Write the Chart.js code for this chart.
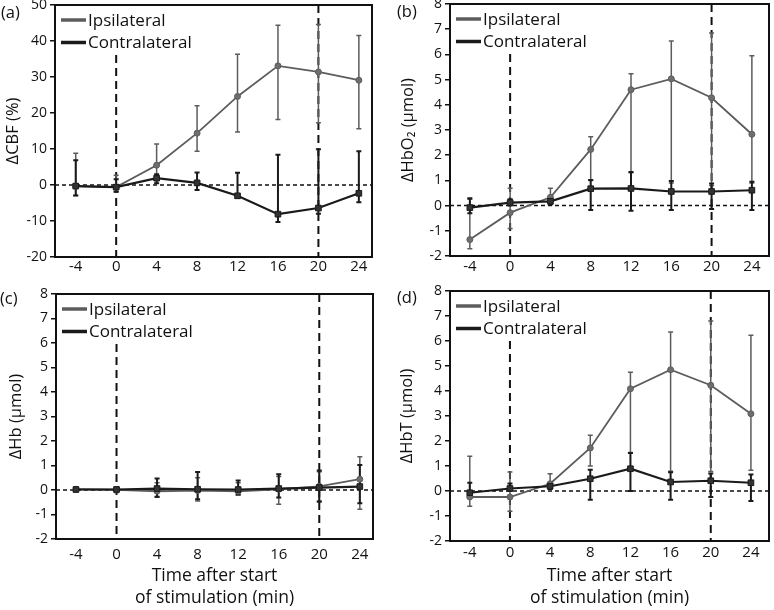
<!DOCTYPE html>
<html>
<head>
<meta charset="utf-8">
<script src="https://cdn.jsdelivr.net/npm/chart.js@4.4.1/dist/chart.umd.min.js"></script>
<style>
  body { margin: 0; background: #fff; }
  #wrap { position: relative; width: 774px; height: 610px; overflow: hidden; background: #fff; }
  #wrap canvas { position: absolute; }
  .tag { position: absolute; font: 500 16.5px "Open Sans", sans-serif; color: #111; line-height: 20px; }
</style>
</head>
<body>
<div id="wrap">
  <canvas id="panelA" width="387" height="302" style="left:0;top:-12px"></canvas>
  <canvas id="panelB" width="387" height="302" style="left:387px;top:-12px"></canvas>
  <canvas id="panelC" width="387" height="332" style="left:0;top:278px"></canvas>
  <canvas id="panelD" width="387" height="332" style="left:387px;top:278px"></canvas>
  <div class="tag" style="left:1px;top:2px">(a)</div>
  <div class="tag" style="left:397px;top:1px">(b)</div>
  <div class="tag" style="left:0;top:288px">(c)</div>
  <div class="tag" style="left:397px;top:287px">(d)</div>
</div>
<script>
// time points (min after start of stimulation)
const times = [-4, 0, 4, 8, 12, 16, 20, 24];
const xTicks = [-4, 0, 4, 8, 12, 16, 20, 24];
// stimulation start / end
const stimMarks = [0, 20];

// (a) CBF (%)
const cbfIpsi = [-0.3, -0.6, 5.5, 14.4, 24.6, 33.1, 31.4, 29.1];
const cbfIpsiHi = [8.8, 2.7, 11.4, 22.0, 36.3, 44.4, 44.6, 41.5];
const cbfIpsiLo = [-2.9, -1.9, 1.5, 9.4, 14.7, 18.2, 17.3, 15.6];
const cbfContra = [-0.3, -0.6, 1.9, 0.6, -3.0, -8.1, -6.4, -2.3];
const cbfContraHi = [6.9, 1.6, 3.0, 3.5, 3.4, 8.4, 9.9, 9.4];
const cbfContraLo = [-2.9, -1.9, 0.5, -1.4, -3.6, -10.3, -8.0, -4.8];

// (b) HbO2 (umol)
const hbo2Ipsi = [-1.35, -0.28, 0.33, 2.23, 4.6, 5.03, 4.28, 2.83];
const hbo2IpsiHi = [0.25, 0.69, 0.69, 2.73, 5.23, 6.53, 6.85, 5.95];
const hbo2IpsiLo = [-1.71, -0.91, 0.15, 1.0, 1.3, 0.9, 0.8, 0.9];
const hbo2Contra = [-0.08, 0.12, 0.17, 0.67, 0.68, 0.56, 0.56, 0.61];
const hbo2ContraHi = [0.29, 0.25, 0.3, 1.02, 1.33, 0.98, 0.88, 0.95];
const hbo2ContraLo = [-0.3, 0.0, 0.05, -0.17, -0.2, -0.17, -0.13, -0.17];

// (c) Hb (umol)
const hbIpsi = [0.03, 0.01, -0.05, -0.02, -0.05, 0.03, 0.15, 0.44];
const hbIpsiHi = [0.08, 0.12, 0.3, 0.5, 0.3, 0.55, 0.75, 1.36];
const hbIpsiLo = [-0.02, -0.1, -0.3, -0.45, -0.2, -0.58, -0.45, -0.79];
const hbContra = [0.02, 0.02, 0.06, 0.03, 0.02, 0.06, 0.1, 0.14];
const hbContraHi = [0.08, 0.1, 0.47, 0.73, 0.39, 0.64, 0.8, 1.02];
const hbContraLo = [-0.04, -0.05, -0.28, -0.38, -0.18, -0.31, -0.48, -0.54];

// (d) HbT (umol)
const hbtIpsi = [-0.24, -0.24, 0.29, 1.72, 4.09, 4.85, 4.23, 3.09];
const hbtIpsiHi = [1.39, 0.76, 0.69, 2.23, 4.75, 6.36, 6.8, 6.23];
const hbtIpsiLo = [-0.61, -0.81, 0.15, 1.0, 1.54, 0.79, 0.78, 0.83];
const hbtContra = [-0.07, 0.1, 0.19, 0.49, 0.89, 0.36, 0.41, 0.33];
const hbtContraHi = [0.33, 0.3, 0.3, 0.85, 1.52, 0.75, 0.7, 0.66];
const hbtContraLo = [-0.25, 0.0, 0.08, -0.35, 0.0, -0.35, -0.24, -0.4];

const family = '"Open Sans", sans-serif';
const ink = '#111';
const ipsiColor = '#5c5c5c';
const contraColor = '#1a1a1a';

// dashed marks, error bars, frame and legend
const panelExtras = {
    id: 'panelExtras',
    beforeDatasetsDraw(chart) {
        const { ctx, chartArea: a, scales: { x, y } } = chart;
        ctx.save();
        // zero line
        ctx.strokeStyle = ink;
        ctx.lineWidth = 1.5;
        ctx.setLineDash([4, 3]);
        const y0 = y.getPixelForValue(0);
        ctx.beginPath();
        ctx.moveTo(a.left, y0);
        ctx.lineTo(a.right, y0);
        ctx.stroke();
        // stimulation on / off
        ctx.lineWidth = 2;
        ctx.setLineDash([8, 5]);
        stimMarks.forEach((t, i) => {
            const px = x.getPixelForValue(t);
            ctx.beginPath();
            ctx.moveTo(px, i === 0 ? a.top + 50 : a.top);
            ctx.lineTo(px, a.bottom);
            ctx.stroke();
        });
        ctx.setLineDash([]);
        // error bars
        chart.data.datasets.forEach(ds => {
            ctx.strokeStyle = ds.borderColor;
            ctx.lineWidth = ds.barWidth;
            ds.data.forEach((pt, i) => {
                const px = x.getPixelForValue(pt.x);
                const top = y.getPixelForValue(ds.errHi[i]);
                const bot = y.getPixelForValue(ds.errLo[i]);
                ctx.beginPath();
                ctx.moveTo(px, top);
                ctx.lineTo(px, bot);
                ctx.moveTo(px - 2.5, top);
                ctx.lineTo(px + 2.5, top);
                ctx.moveTo(px - 2.5, bot);
                ctx.lineTo(px + 2.5, bot);
                ctx.stroke();
            });
        });
        ctx.restore();
    },
    afterDraw(chart) {
        const { ctx, chartArea: a } = chart;
        ctx.save();
        ctx.strokeStyle = ink;
        ctx.lineWidth = 2;
        ctx.strokeRect(a.left, a.top, a.right - a.left, a.bottom - a.top);
        // legend inside the plot, top left
        ctx.font = '500 17px ' + family;
        ctx.textBaseline = 'middle';
        chart.data.datasets.forEach((ds, i) => {
            const ly = a.top + 15 + i * 22.5;
            ctx.strokeStyle = ds.borderColor;
            ctx.lineWidth = 3.5;
            ctx.beginPath();
            ctx.moveTo(a.left + 6, ly);
            ctx.lineTo(a.left + 31, ly);
            ctx.stroke();
            ctx.fillStyle = ink;
            ctx.fillText(ds.label, a.left + 33, ly + 1);
        });
        ctx.restore();
    }
};

function makePanel(id, p) {
    const pts = vals => times.map((t, i) => ({ x: t, y: vals[i] }));
    return new Chart(document.getElementById(id), {
        type: 'line',
        data: {
            datasets: [{
                label: 'Ipsilateral',
                data: pts(p.ipsi),
                errHi: p.ipsiHi,
                errLo: p.ipsiLo,
                borderColor: ipsiColor,
                backgroundColor: '#6e6e6e',
                borderWidth: 1.8,
                barWidth: 1.5,
                pointStyle: 'circle',
                pointRadius: 3,
                pointBorderWidth: 1,
                tension: 0,
                order: 1
            }, {
                label: 'Contralateral',
                data: pts(p.contra),
                errHi: p.contraHi,
                errLo: p.contraLo,
                borderColor: contraColor,
                backgroundColor: '#333',
                borderWidth: 2.2,
                barWidth: 2,
                pointStyle: 'rect',
                pointRadius: 4,
                pointBorderWidth: 1,
                tension: 0,
                order: 0
            }]
        },
        options: {
            responsive: false,
            animation: false,
            layout: { padding: p.pad },
            plugins: { legend: { display: false }, tooltip: { enabled: false } },
            scales: {
                x: {
                    type: 'linear',
                    min: p.xMin,
                    max: p.xMax,
                    afterBuildTicks: s => { s.ticks = xTicks.map(v => ({ value: v })); },
                    afterFit: s => { s.height = p.xH; },
                    grid: { display: false, drawTicks: false },
                    border: { display: false },
                    ticks: { color: ink, font: { size: 15, family, weight: 500 }, padding: p.xPad, maxRotation: 0 },
                    title: {
                        display: !!p.xTitle,
                        text: p.xTitle,
                        color: ink,
                        font: { size: 17.5, family, weight: 500, lineHeight: 1.25 },
                        padding: { top: 0, bottom: 1 }
                    }
                },
                y: {
                    min: p.yMin,
                    max: p.yMax,
                    afterFit: s => { s.width = p.yW; },
                    grid: { drawOnChartArea: false, drawTicks: true, tickLength: 5, color: ink, lineWidth: 1.5 },
                    border: { display: false },
                    ticks: { stepSize: p.yStep, color: ink, font: { size: 14, family, weight: 500 }, padding: 3 },
                    title: {
                        display: true,
                        text: p.yTitle,
                        color: ink,
                        font: { size: 16.5, family, weight: 500 },
                        padding: { top: p.yTitlePad, bottom: 0 }
                    }
                }
            }
        },
        plugins: [panelExtras]
    });
}

const timeTitle = ['Time after start', 'of stimulation (min)'];

makePanel('panelA', {
    ipsi: cbfIpsi, ipsiHi: cbfIpsiHi, ipsiLo: cbfIpsiLo,
    contra: cbfContra, contraHi: cbfContraHi, contraLo: cbfContraLo,
    yMin: -20, yMax: 50, yStep: 10, yTitle: 'ΔCBF (%)', yTitlePad: 3,
    xMin: -6.05, xMax: 25.3, xPad: 1, xH: 33, yW: 55,
    pad: { top: 17, right: 15, left: 0, bottom: 0 }
});

makePanel('panelB', {
    ipsi: hbo2Ipsi, ipsiHi: hbo2IpsiHi, ipsiLo: hbo2IpsiLo,
    contra: hbo2Contra, contraHi: hbo2ContraHi, contraLo: hbo2ContraLo,
    yMin: -2, yMax: 8, yStep: 1, yTitle: 'ΔHbO₂ (μmol)', yTitlePad: 11,
    xMin: -5.97, xMax: 25.7, xPad: 2, xH: 34, yW: 63,
    pad: { top: 16, right: 2, left: 0, bottom: 0 }
});

makePanel('panelC', {
    ipsi: hbIpsi, ipsiHi: hbIpsiHi, ipsiLo: hbIpsiLo,
    contra: hbContra, contraHi: hbContraHi, contraLo: hbContraLo,
    yMin: -2, yMax: 8, yStep: 1, yTitle: 'ΔHb (μmol)', yTitlePad: 6,
    xMin: -5.97, xMax: 25.3, xPad: 7, xH: 71, yW: 56, xTitle: timeTitle,
    pad: { top: 16, right: 14, left: 0, bottom: 0 }
});

makePanel('panelD', {
    ipsi: hbtIpsi, ipsiHi: hbtIpsiHi, ipsiLo: hbtIpsiLo,
    contra: hbtContra, contraHi: hbtContraHi, contraLo: hbtContraLo,
    yMin: -2, yMax: 8, yStep: 1, yTitle: 'ΔHbT (μmol)', yTitlePad: 10,
    xMin: -5.97, xMax: 25.8, xPad: 3, xH: 69, yW: 63, xTitle: timeTitle,
    pad: { top: 13, right: 2, left: 0, bottom: 0 }
});
</script>
</body>
</html>
